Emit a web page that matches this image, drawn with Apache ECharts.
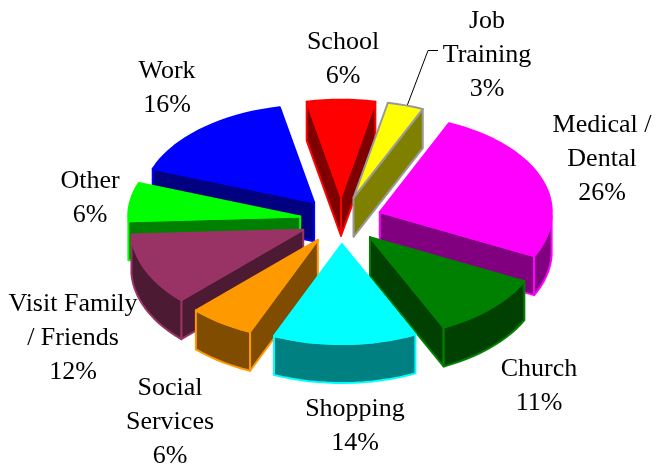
<!DOCTYPE html>
<html><head><meta charset="utf-8">
<style>html,body{margin:0;padding:0;background:#fff}#c{width:665px;height:466px}</style>
<script src="https://cdn.jsdelivr.net/npm/echarts@6/dist/echarts.min.js"></script>
</head><body><div id="c"></div>
<script>
const categories = ['School','Job Training','Medical / Dental','Church','Shopping','Social Services','Visit Family / Friends','Other','Work'];
const values = [6.4,3.4,25.7,10.7,13.5,6.1,11.7,6.4,16.2];
const colors = ['#ff0000','#ffff00','#ff00ff','#008000','#00ffff','#ff9900','#993366','#00ff00','#0000ff'];
const edgeColors = ['#ff0000','#999999','#ff00ff','#008000','#00ffff','#ff9900','#993366','#00ff00','#0000ff'];
const labelLines = [['School','6%'],['Job','Training','3%'],['Medical /','Dental','26%'],['Church','11%'],['Shopping','14%'],['Social','Services','6%'],['Visit Family','/ Friends','12%'],['Other','6%'],['Work','16%']];
const labelCenters = [[343,59],[487,55],[602,159],[539,386],[355,426],[170,422],[73,338],[90,198],[167,88]];

const START = -11.5, EXPLODE = 0.24, THICK = 0.39;
const total = values.reduce((a,b)=>a+b,0);
const spans = []; let acc = START;
values.forEach(v=>{const s=acc; acc+=v/total*360; spans.push([s,acc]);});
const cosd = a=>Math.cos(a*Math.PI/180);
const unit = a=>{const r=a*Math.PI/180; const c=Math.cos(r); return [Math.sin(r), c*(c>0?0.97:1)];};
function shade(hex){const n=parseInt(hex.slice(1),16);
  const f=x=>Math.round(x/2).toString(16).padStart(2,'0');
  return '#'+f(n>>16&255)+f(n>>8&255)+f(n&255);}
const apexOf = i=>{const m=unit((spans[i][0]+spans[i][1])/2); return [m[0]*EXPLODE,m[1]*EXPLODE];};
const order = values.map((_,i)=>i).sort((a,b)=>apexOf(b)[1]-apexOf(a)[1]);
const seriesData = order.map(i=>({value:[i,values[i]],name:categories[i]}));

function renderItem(params, api){
  const i = api.value(0);
  const [a0,a1] = spans[i];
  const apex = apexOf(i);
  const rim = [];
  const n = Math.max(4, Math.round((a1-a0)/3));
  for(let k=0;k<=n;k++){const u=unit(a0+(a1-a0)*k/n); rim.push([apex[0]+u[0],apex[1]+u[1]]);}
  const P = p=>api.coord(p);
  const D = p=>api.coord([p[0],p[1]-THICK]);
  const col = colors[i], edge = edgeColors[i], dark = shade(col);
  const wall = pts=>({type:'polygon',shape:{points:pts},style:{fill:dark,stroke:edge,lineWidth:2,lineJoin:'round'}});
  const first = rim[0], last = rim[rim.length-1];
  const children = [];
  // a cut face is drawn only when it faces the viewer
  if(cosd(a0-90)<0) children.push(wall([P(apex),P(first),D(first),D(apex)]));
  if(cosd(a1+90)<0) children.push(wall([P(apex),P(last),D(last),D(apex)]));
  const front = rim.filter((p,k)=>cosd(a0+(a1-a0)*k/n)<=0);
  if(front.length>1){
    children.push(wall(front.map(P).concat(front.slice().reverse().map(D))));
  }
  children.push({type:'polygon',shape:{points:[P(apex)].concat(rim.map(P))},
    style:{fill:col,stroke:edge,lineWidth:2,lineJoin:'round'}});
  return {type:'group',children};
}

const W=665,H=466,CX=341,CY=220,RX=172,RY=100;
const labelGraphics = labelLines.map((lines,i)=>({
  type:'text',x:labelCenters[i][0],y:labelCenters[i][1],
  style:{text:lines.join('\n'),font:'26px "Liberation Serif"',lineHeight:34,fill:'#000',align:'center',verticalAlign:'middle'}
}));
labelGraphics.push({type:'polyline',shape:{points:[[407,106],[428,50.5],[438,50.5]]},style:{stroke:'#000',lineWidth:1,fill:null}});

const chart = echarts.init(document.getElementById('c'),null,{renderer:'canvas'});
chart.setOption({
  animation:false,
  backgroundColor:'#fff',
  grid:{left:0,top:0,width:W,height:H},
  xAxis:{type:'value',min:-CX/RX,max:(W-CX)/RX,show:false},
  yAxis:{type:'value',min:(CY-H)/RY,max:CY/RY,show:false},
  series:[{type:'custom',coordinateSystem:'cartesian2d',renderItem,data:seriesData,clip:false}],
  graphic:labelGraphics
});
</script></body></html>
